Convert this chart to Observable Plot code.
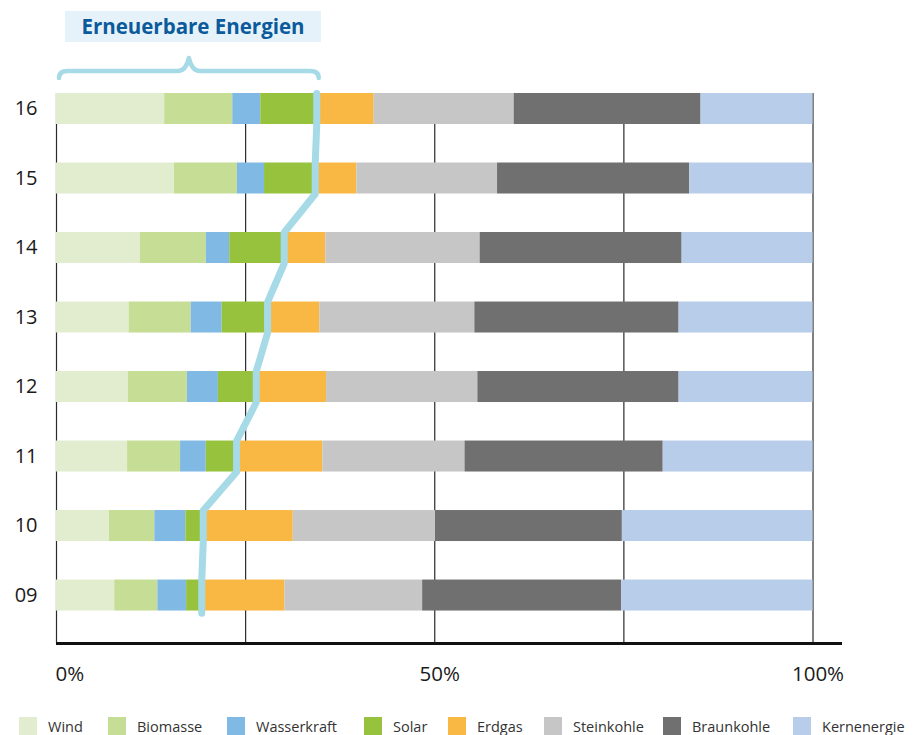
<!DOCTYPE html>
<html><head><meta charset="utf-8">
<script src="https://cdn.jsdelivr.net/npm/d3@7"></script>
<script src="https://cdn.jsdelivr.net/npm/@observablehq/plot@0.6"></script>
<style>
body{margin:0;background:#fff;font-family:"Open Sans",sans-serif;}
#wrap{position:relative;width:914px;height:735px;overflow:hidden;}
#chart{position:absolute;left:0;top:0;}
#title{position:absolute;left:65px;top:11px;width:256px;height:31px;background:#e5f2f9;color:#0b5a9c;font-weight:700;font-size:20.5px;line-height:31px;text-align:center;white-space:nowrap;}
#legend{position:absolute;left:0;top:717px;width:914px;height:18px;}
#legend .item{position:absolute;top:0;display:flex;align-items:center;height:18px;}
#legend .sw{width:18px;height:18px;margin-right:11px;}
#legend .lb{font-size:14.5px;color:#333;white-space:nowrap;}
</style>
</head><body>
<div id="wrap">
<div id="chart"></div>
<div id="title">Erneuerbare Energien</div>
<div id="legend"></div>
</div>
<script>
const years = ["09","10","11","12","13","14","15","16"];
const sources = ["Wind","Biomasse","Wasserkraft","Solar","Erdgas","Steinkohle","Braunkohle","Kernenergie"];
const colors = ["#e2edcf","#c5dd94","#80b9e4","#97c23d","#f9b843","#c6c6c6","#707070","#b7cde9"];
const wind        = [7.7, 7.0, 9.4, 9.5, 9.6, 11.1, 15.6, 14.3];
const biomasse    = [5.7, 6.0, 7.0, 7.8, 8.2, 8.7, 8.3, 9.0];
const wasserkraft = [3.8, 4.1, 3.4, 4.1, 4.1, 3.1, 3.6, 3.7];
const solar       = [2.0, 2.3, 4.0, 5.0, 6.0, 7.2, 6.7, 7.4];
const erdgas      = [11.0, 11.9, 11.4, 9.3, 6.9, 5.5, 5.5, 7.6];
const steinkohle  = [18.2, 18.8, 18.8, 20.0, 20.5, 20.4, 18.6, 18.5];
const braunkohle  = [26.3, 24.7, 26.2, 26.6, 27.0, 26.7, 25.4, 24.7];
const kernenergie = [25.3, 25.2, 19.8, 17.7, 17.7, 17.3, 16.3, 14.8];
const xTicks = [0, 25, 50, 75, 100];
const titleText = "Erneuerbare Energien";

// legend layout (pixel offsets of the swatches)
const legendLeft = [19, 108, 227, 364, 448, 544, 663, 793];

const series = [wind, biomasse, wasserkraft, solar, erdgas, steinkohle, braunkohle, kernenergie];
const renewableCount = 4;

const rows = [];
years.forEach((yr, i) => {
  let acc = 0;
  sources.forEach((s, k) => {
    const v = series[k][i];
    rows.push({year: yr, yi: i, source: s, x1: acc, x2: acc + v});
    acc += v;
  });
});
const renew = years.map((yr, i) => series.slice(0, renewableCount).reduce((a, s) => a + s[i], 0));
const half = 0.223;
const linePts = [];
years.forEach((yr, i) => {
  linePts.push({x: renew[i], y: i - half - (i === 0 ? 0.03 : 0)});
  linePts.push({x: renew[i], y: i + half});
});
const yBase = -0.69;
const yTop = years.length - 1 + half;

const brace = (index, scales) => {
  const xs = scales.x, ys = scales.y;
  const x0 = xs(0) + 3, x1 = xs(renew[renew.length - 1]) + 2.5;
  const top = ys(yTop);
  const yb = top - 15, yh = top - 22, yp = top - 35;
  const mid = (x0 + x1) / 2;
  const d = `M${x0},${yb} Q${x0},${yh} ${x0+9},${yh} L${mid-11},${yh} Q${mid-3},${yh} ${mid},${yp} Q${mid+3},${yh} ${mid+11},${yh} L${x1-9},${yh} Q${x1},${yh} ${x1},${yb}`;
  const p = document.createElementNS("http://www.w3.org/2000/svg", "path");
  p.setAttribute("d", d);
  p.setAttribute("fill", "none");
  p.setAttribute("stroke", "#a6dae6");
  p.setAttribute("stroke-width", 4.5);
  p.setAttribute("stroke-linecap", "round");
  p.setAttribute("stroke-linejoin", "round");
  const g = document.createElementNS("http://www.w3.org/2000/svg", "g");
  g.appendChild(p);
  return g;
};

const chart = Plot.plot({
  width: 914,
  height: 700,
  style: {fontFamily: "'Open Sans', sans-serif", color: "#1a1a1a", background: "transparent"},
  x: {domain: [0, 100], range: [56, 812.5], axis: null},
  y: {domain: [yBase, years.length - 1], range: [643, 108.5], axis: null},
  color: {domain: sources, range: colors},
  marks: [
    Plot.ruleX(xTicks, {y1: yBase, y2: yTop, stroke: "#2a2a2a", strokeWidth: 1.2}),
    Plot.rectX(rows, {x1: "x1", x2: "x2", y1: d => d.yi - half, y2: d => d.yi + half, fill: "source", inset: 0}),
    Plot.ruleY([yBase], {x1: 0, x2: 103.9, stroke: "#111", strokeWidth: 3}),
    Plot.line(linePts, {x: "x", y: "y", stroke: "#a6dae6", strokeWidth: 7, strokeLinecap: "round", strokeLinejoin: "round"}),
    brace,
    Plot.text(years, {x: 0, y: (d, i) => i, text: d => d, textAnchor: "end", dx: -19, fontSize: 20, fill: "#1a1a1a"}),
    Plot.text([xTicks[0]], {x: d => d, y: yBase, text: d => d + "%", textAnchor: "start", dy: 31, dx: -1, fontSize: 20.5, fill: "#1a1a1a"}),
    Plot.text(xTicks.filter(t => t === 50 || t === 100), {x: d => d, y: yBase, text: d => d + "%", textAnchor: "middle", dy: 31, dx: 5, fontSize: 20.5, fill: "#1a1a1a"})
  ]
});
document.getElementById("chart").appendChild(chart);
document.getElementById("title").textContent = titleText;

const legend = document.getElementById("legend");
sources.forEach((s, k) => {
  const it = document.createElement("div"); it.className = "item"; it.style.left = legendLeft[k] + "px";
  const sw = document.createElement("div"); sw.className = "sw"; sw.style.background = colors[k];
  const lb = document.createElement("span"); lb.className = "lb"; lb.textContent = s;
  it.appendChild(sw); it.appendChild(lb); legend.appendChild(it);
});
</script>
</body></html>
